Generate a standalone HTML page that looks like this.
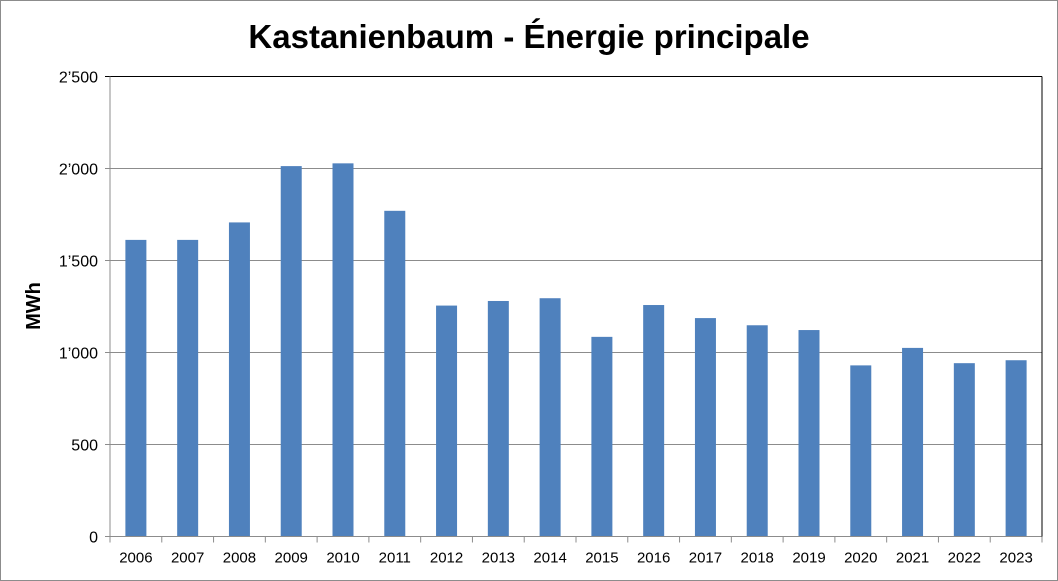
<!DOCTYPE html>
<html><head><meta charset="utf-8"><style>
body{margin:0;background:#fff}
svg{display:block;font-family:"Liberation Sans",Arial,sans-serif}
</style></head><body>
<svg id="chart" width="1058" height="581">
<rect x="0.5" y="0.5" width="1057" height="580" fill="#fff" stroke="#8c8c8c"/>
<text x="529" y="48" text-anchor="middle" font-size="33" font-weight="bold" fill="#000">Kastanienbaum - Énergie principale</text>
<text transform="translate(40,306) rotate(-90)" text-anchor="middle" font-size="20" font-weight="bold">MWh</text>
<g id="grid"></g><g id="bars"></g><g id="axes"></g>
</svg>
<script>
const categories=["2006","2007","2008","2009","2010","2011","2012","2013","2014","2015","2016","2017","2018","2019","2020","2021","2022","2023"];
const values=[1612,1612,1707,2013,2028,1770,1255,1280,1295,1085,1258,1187,1148,1122,930,1025,942,958];
const yTicks=[0,500,1000,1500,2000,2500];
const yTickLabels=["0","500","1’000","1’500","2’000","2’500"];
const L=110,R=1042,T=76.5,B=536.5,yMax=2500;
const ns="http://www.w3.org/2000/svg";
const y=v=>B-(v/yMax)*(B-T);
const bw=(R-L)/categories.length;
const x=i=>L+bw*(i+0.5);
function mk(tag,attrs,parent){const e=document.createElementNS(ns,tag);for(const k in attrs)e.setAttribute(k,attrs[k]);document.getElementById(parent).appendChild(e);return e;}
yTicks.forEach((t,i)=>{
  const g=mk('line',{x1:L-5,x2:R,y1:y(t),y2:y(t),stroke:i==yTicks.length-1?'#000':'#8c8c8c','stroke-width':1},'grid');
  
  
  const tx=mk('text',{x:L-12,y:y(t)+6,'text-anchor':'end','font-size':16},'axes');
  tx.textContent=yTickLabels[i];
  
  
});
values.forEach((v,i)=>{
  const r=mk('rect',{x:x(i)-10.5,y:y(v),width:21,height:B-y(v),fill:'#4f81bd'},'bars');
  
  
  const tx=mk('text',{x:x(i),y:B+26,'text-anchor':'middle','font-size':15},'axes');
  tx.textContent=categories[i];
  
  
});
for(let i=0;i<=categories.length;i++){
  const tk=mk('line',{x1:L+bw*i,x2:L+bw*i,y1:B,y2:B+6,stroke:'#8c8c8c'},'axes');
  
  
}
let a=mk('line',{x1:L,x2:L,y1:T,y2:B,stroke:'#8c8c8c'},'axes');


a=mk('line',{x1:L,x2:R,y1:B,y2:B,stroke:'#8c8c8c'},'axes');


a=mk('line',{x1:R,x2:R,y1:T,y2:B,stroke:'#000'},'axes');


</script>
</body></html>
